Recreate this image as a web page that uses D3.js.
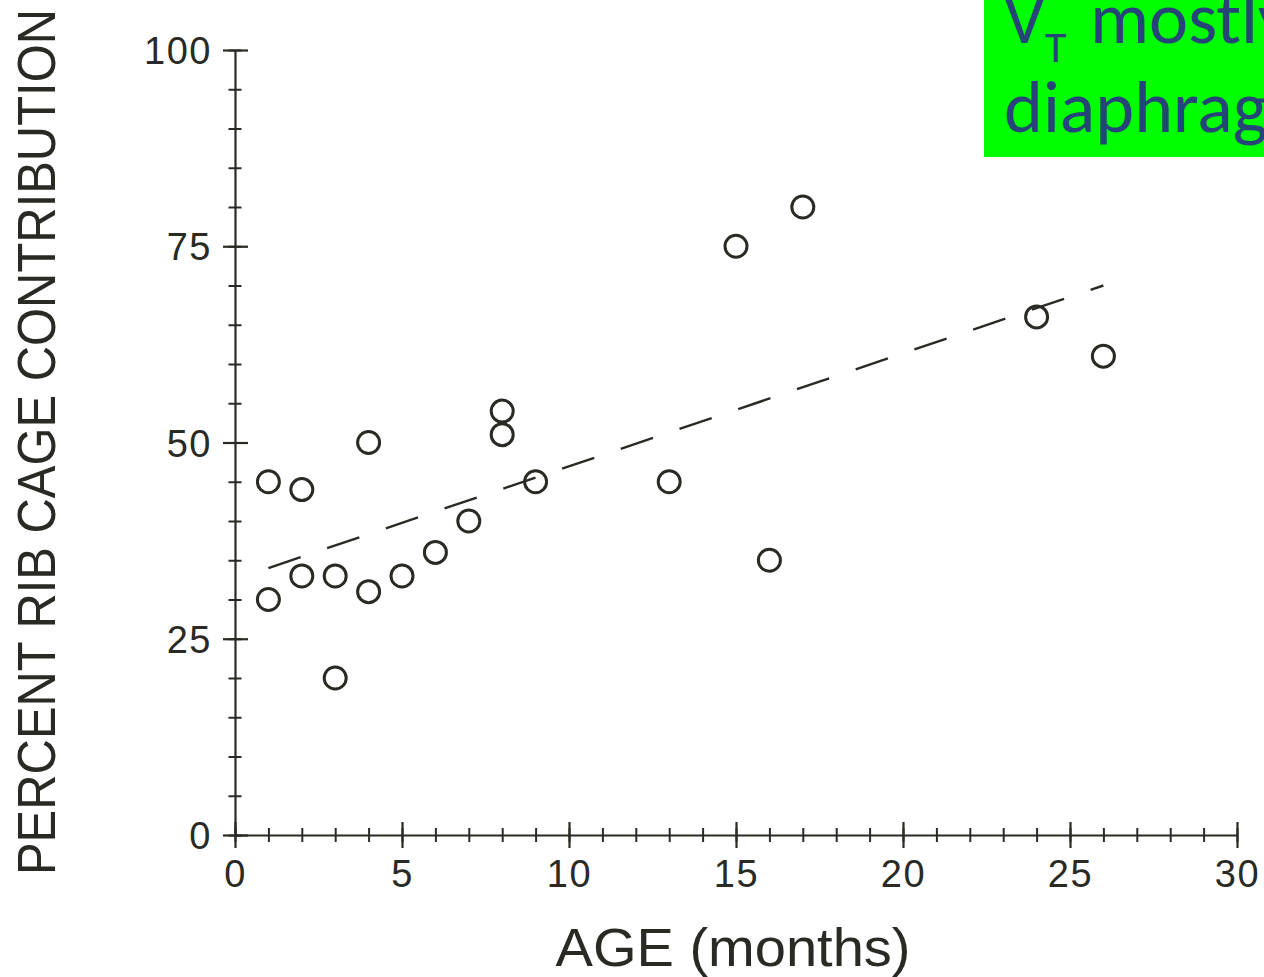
<!DOCTYPE html>
<html>
<head>
<meta charset="utf-8">
<script src="https://cdn.jsdelivr.net/npm/d3@7"></script>
<style>
  html, body { margin: 0; padding: 0; background: #ffffff; overflow: hidden; }
  svg { display: block; }
</style>
</head>
<body>
<script>
// Age (months) and percent rib cage contribution for each infant
const ageMonths = [1, 1, 2, 2, 3, 3, 4, 4, 5, 6, 7, 8, 8, 9, 13, 15, 16, 17, 24, 26];
const ribCagePct = [45, 30, 44, 33, 33, 20, 50, 31, 33, 36, 40, 54, 51, 45, 45, 75, 35, 80, 66, 61];

// Regression (dashed) line end points
const trendAge = [1, 26];
const trendPct = [34, 70];

// Axis ticks
const xMajorTicks = [0, 5, 10, 15, 20, 25, 30];
const xMinorTicks = d3.range(0, 31, 1);
const yMajorTicks = [0, 25, 50, 75, 100];
const yMinorTicks = d3.range(0, 101, 5);

const W = 1264, H = 977;
const ink = "#2a2a24";

const svg = d3.select("body").append("svg")
  .attr("width", W).attr("height", H);

const x = d3.scaleLinear().domain([0, 30]).range([235, 1237]);
const y = d3.scaleLinear().domain([0, 100]).range([835, 50]);

// Y axis: ticks cross the spine
const yMinor = svg.append("g")
  .attr("transform", `translate(${x(0)},0)`)
  .call(d3.axisLeft(y).tickValues(yMinorTicks).tickSize(6.5).tickFormat(""));
yMinor.select(".domain").remove();
yMinor.selectAll("line").attr("x1", 6.5).attr("stroke", ink).attr("stroke-width", 2);

const yAxis = svg.append("g")
  .attr("transform", `translate(${x(0)},0)`)
  .call(d3.axisLeft(y).tickValues(yMajorTicks).tickSize(12).tickPadding(11).tickSizeOuter(0));
yAxis.select(".domain").attr("stroke", ink).attr("stroke-width", 2.2);
yAxis.selectAll("line").attr("x1", 13).attr("stroke", ink).attr("stroke-width", 2.2);
yAxis.selectAll("text")
  .attr("fill", ink)
  .attr("font-family", "'Liberation Sans', Arial, sans-serif")
  .attr("font-size", 38)
  .attr("letter-spacing", 1.5)
  .attr("dy", "0.36em");

// X axis
const xMinor = svg.append("g")
  .attr("transform", `translate(0,${y(0)})`)
  .call(d3.axisBottom(x).tickValues(xMinorTicks).tickSize(7).tickFormat(""));
xMinor.select(".domain").remove();
xMinor.selectAll("line").attr("y1", -7).attr("stroke", ink).attr("stroke-width", 2);

const xAxis = svg.append("g")
  .attr("transform", `translate(0,${y(0)})`)
  .call(d3.axisBottom(x).tickValues(xMajorTicks).tickSize(13).tickPadding(12).tickSizeOuter(0));
xAxis.select(".domain").attr("stroke", ink).attr("stroke-width", 2.2);
xAxis.selectAll("line").attr("y1", -13).attr("stroke", ink).attr("stroke-width", 2.2);
xAxis.selectAll("text")
  .attr("fill", ink)
  .attr("font-family", "'Liberation Sans', Arial, sans-serif")
  .attr("font-size", 38)
  .attr("letter-spacing", 1.5)
  .attr("dy", "0.72em");

// Axis titles
svg.append("text")
  .attr("x", (x(0) + x(30)) / 2 - 3)
  .attr("y", 966)
  .attr("text-anchor", "middle")
  .attr("fill", ink)
  .attr("font-family", "'Liberation Sans', Arial, sans-serif")
  .attr("font-size", 54)
  .attr("textLength", 355)
  .attr("lengthAdjust", "spacingAndGlyphs")
  .text("AGE (months)");

svg.append("text")
  .attr("transform", "translate(55,442) rotate(-90)")
  .attr("text-anchor", "middle")
  .attr("fill", ink)
  .attr("font-family", "'Liberation Sans', Arial, sans-serif")
  .attr("font-size", 54)
  .attr("textLength", 866)
  .attr("lengthAdjust", "spacingAndGlyphs")
  .text("PERCENT RIB CAGE CONTRIBUTION");

// Dashed trend line
const trend = trendAge.map((a, i) => [a, trendPct[i]]);
svg.append("path")
  .datum(trend)
  .attr("d", d3.line().x(d => x(d[0])).y(d => y(d[1])))
  .attr("fill", "none")
  .attr("stroke", ink)
  .attr("stroke-width", 2.4)
  .attr("stroke-dasharray", "34,28");

// Data points
svg.append("g")
  .selectAll("circle")
  .data(ageMonths.map((a, i) => ({ age: a, pct: ribCagePct[i] })))
  .join("circle")
  .attr("cx", d => x(d.age))
  .attr("cy", d => y(d.pct))
  .attr("r", 11)
  .attr("fill", "none")
  .attr("stroke", ink)
  .attr("stroke-width", 3);

// Annotation box (runs off the right edge of the page)
const note = svg.append("g");
note.append("rect")
  .attr("x", 984).attr("y", 0)
  .attr("width", W - 984).attr("height", 157)
  .attr("fill", "#00ff00");

const noteFont = "Carlito, Lato, 'Open Sans', sans-serif";
const noteColor = "#264478";

note.append("text")
  .attr("x", 1004).attr("y", 43)
  .attr("fill", noteColor)
  .attr("font-family", noteFont)
  .attr("font-size", 72)
  .text("V");
note.append("text")
  .attr("x", 1045).attr("y", 62)
  .attr("fill", noteColor)
  .attr("font-family", noteFont)
  .attr("font-size", 44)
  .text("T");
note.append("text")
  .attr("x", 1090).attr("y", 43)
  .attr("fill", noteColor)
  .attr("font-family", noteFont)
  .attr("font-size", 74)
  .text("mostly");

note.append("text")
  .attr("x", 1004).attr("y", 132)
  .attr("fill", noteColor)
  .attr("font-family", noteFont)
  .attr("font-size", 74)
  .text("diaphragmatic");
</script>
</body>
</html>
